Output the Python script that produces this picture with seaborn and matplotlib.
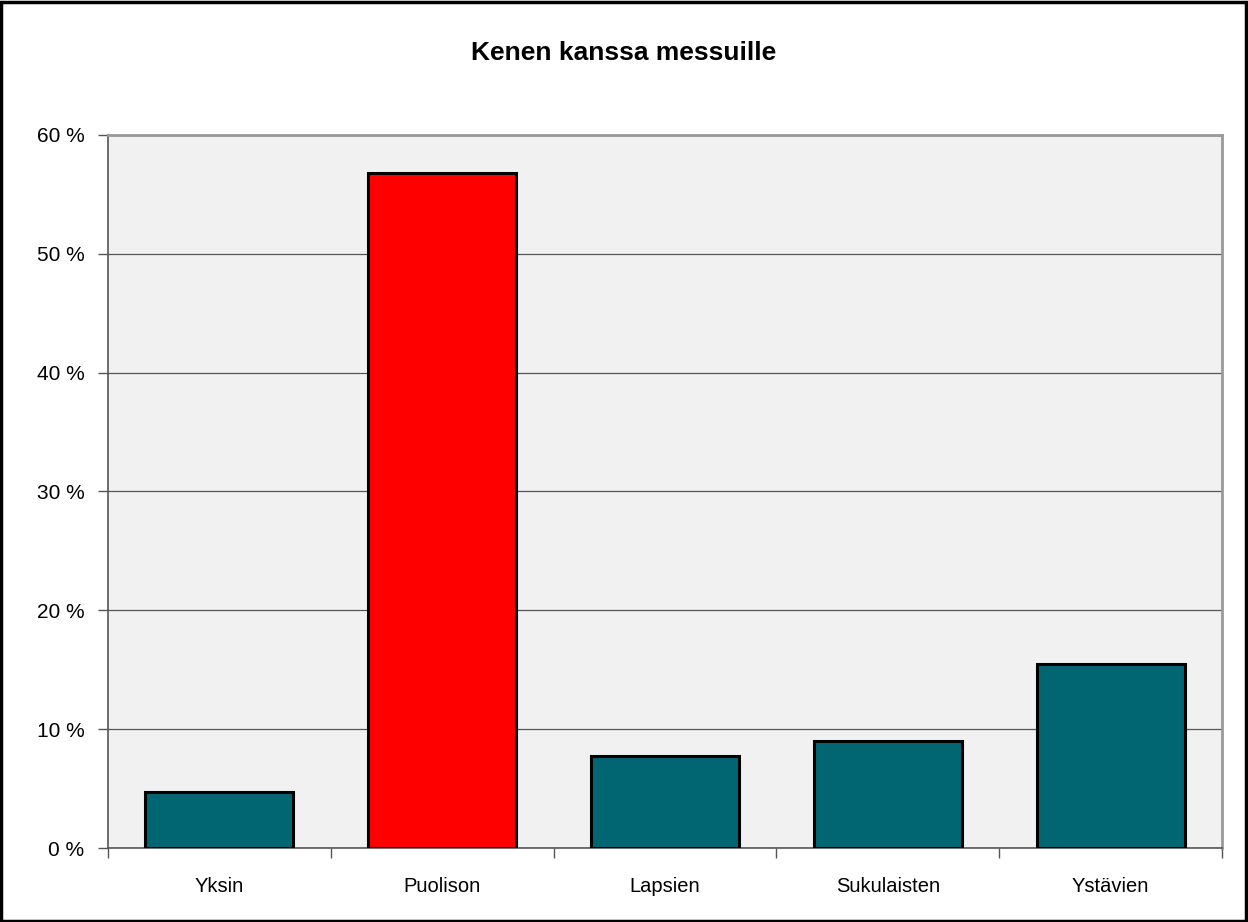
import pandas as pd
import seaborn as sns
from matplotlib import pyplot as plt
from matplotlib.patches import Rectangle
from matplotlib.ticker import FuncFormatter

# data
categories = ['Yksin', 'Puolison', 'Lapsien', 'Sukulaisten', 'Ystävien']
shares = [4.7, 56.8, 7.7, 9.0, 15.5]
bar_colors = ['#016672', '#ff0000', '#016672', '#016672', '#016672']

df = pd.DataFrame({'kategoria': categories, 'osuus': shares})

sns.set_style('white')
plt.rcParams['font.family'] = ['Liberation Sans', 'DejaVu Sans']
plt.rcParams['text.color'] = 'black'
plt.rcParams['xtick.color'] = 'black'
plt.rcParams['ytick.color'] = 'black'

fig = plt.figure(figsize=(12.48, 9.22), dpi=100)
ax = fig.add_axes([108 / 1248, 74 / 922, 1114 / 1248, 713 / 922])
ax.set_facecolor('#f1f1f1')

sns.barplot(data=df, x='kategoria', y='osuus', hue='kategoria',
            palette=bar_colors, legend=False, width=0.665,
            edgecolor='black', linewidth=2.2, saturation=1, ax=ax, zorder=3)

ax.set_ylim(0, 60)
ax.set_xlim(-0.5, len(categories) - 0.5)
ax.set_yticks(range(0, 61, 10))
ax.yaxis.set_major_formatter(FuncFormatter(lambda v, p: '%d %%' % v))
ax.yaxis.grid(True, color='#555555', linewidth=0.9, zorder=1)
ax.set_axisbelow(True)

# category ticks sit between bars
ax.set_xticks([i - 0.5 for i in range(len(categories) + 1)], minor=True)
ax.set_xticks(range(len(categories)))
ax.set_xticklabels(categories)
ax.tick_params(axis='x', which='major', bottom=True, length=0, pad=21, labelsize=14.5,
               labelcolor='black')
ax.tick_params(axis='x', which='minor', bottom=True, length=7, width=1, color='#555555',
               direction='out')
ax.tick_params(axis='y', left=True, length=7, width=1, color='#555555', direction='out',
               pad=10, labelsize=15, labelcolor='black')
ax.set_xlabel('')
ax.set_ylabel('')

for side in ['left', 'bottom']:
    ax.spines[side].set_color('#555555')
    ax.spines[side].set_linewidth(1.2)
for side in ['top', 'right']:
    ax.spines[side].set_color('#999999')
    ax.spines[side].set_linewidth(2)

fig.text(0.5, 1 - 53 / 922, 'Kenen kanssa messuille', ha='center', va='center',
         fontsize=19, fontweight='bold', color='black')

# outer chart frame
fig.patches.append(Rectangle((0.001, 0.001), 0.997, 0.997, transform=fig.transFigure,
                             fill=False, edgecolor='black', linewidth=2.5))

fig.savefig('out.png', dpi=100)
